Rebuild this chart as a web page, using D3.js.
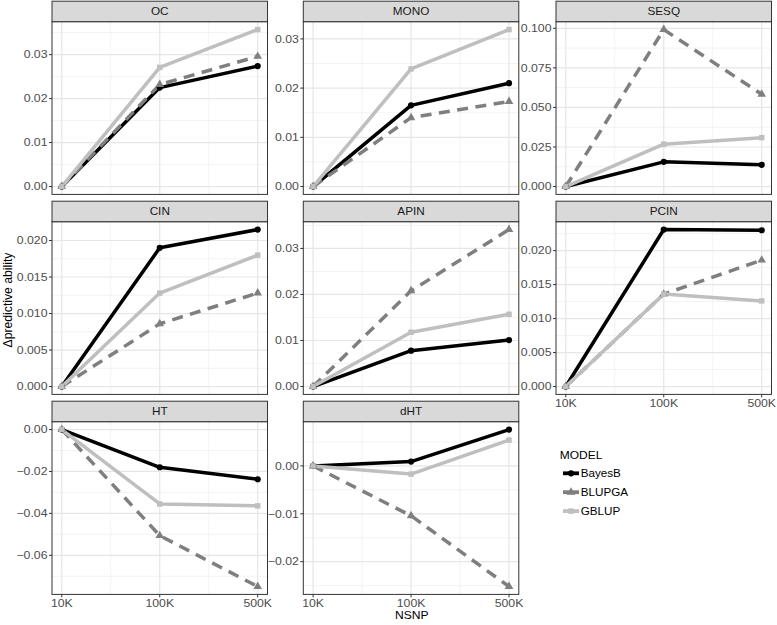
<!DOCTYPE html>
<html><head><meta charset="utf-8">
<script src="https://cdn.jsdelivr.net/npm/d3@7"></script>
<style>body{margin:0;background:#fff}svg{display:block}</style>
</head><body>
<script>
// ---- data ----
const panels = ["OC","MONO","SESQ","CIN","APIN","PCIN","HT","dHT"];
const nsnp = ["10K","100K","500K"];
const models = ["BayesB","BLUPGA","GBLUP"];
// one [10K,100K,500K] triple per panel, in panel order
const BayesB = [[0,0.0225,0.0274],[0,0.0165,0.0210],[0,0.0156,0.0137],[0,0.0190,0.0215],
                [0,0.0078,0.0101],[0,0.0231,0.0230],[0,-0.0180,-0.0237],[0,0.0009,0.0076]];
const BLUPGA = [[0,0.0232,0.0296],[0,0.0140,0.0173],[0,0.0992,0.0583],[0,0.0086,0.0128],
                [0,0.0208,0.0341],[0,0.0136,0.0186],[0,-0.0506,-0.0749],[0,-0.0104,-0.0252]];
const GBLUP  = [[0,0.0271,0.0357],[0,0.0239,0.0319],[0,0.0268,0.0309],[0,0.0128,0.0180],
                [0,0.0118,0.0157],[0,0.0136,0.0126],[0,-0.0355,-0.0364],[0,-0.0017,0.0054]];
const yTickLabels = [
  ["0.00","0.01","0.02","0.03"],
  ["0.00","0.01","0.02","0.03"],
  ["0.000","0.025","0.050","0.075","0.100"],
  ["0.000","0.005","0.010","0.015","0.020"],
  ["0.00","0.01","0.02","0.03"],
  ["0.000","0.005","0.010","0.015","0.020"],
  ["−0.06","−0.04","−0.02","0.00"],
  ["−0.02","−0.01","0.00"]
];
const seriesData = {BayesB, BLUPGA, GBLUP};

// ---- style ----
const W = 777, H = 625;
const colLeft = [52, 303.3, 556], pw = 215.5;
const rowTop = [21.7, 221.7, 421.7], ph = 172.7, stripH = 20.5;
const styles = {
  BayesB: {color:"#000000", dash:null, shape:"circle"},
  BLUPGA: {color:"#7f7f7f", dash:"11,7.5", shape:"triangle"},
  GBLUP:  {color:"#bfbfbf", dash:null, shape:"square"}
};
const bottomPanels = ["HT","dHT","PCIN"];
const font = "'Liberation Sans', Arial, Helvetica, sans-serif";

const svg = d3.select("body").append("svg").attr("width",W).attr("height",H);
svg.append("rect").attr("width",W).attr("height",H).attr("fill","#fff");

function txt(g, x, y, s, o){
  const t = g.append("text").attr("transform",`translate(${x},${y}) ${o.rot?`rotate(${o.rot})`:""} scale(${o.sx||1},1)`)
    .attr("font-family",font).attr("font-size",o.size).attr("fill",o.fill||"#000")
    .attr("text-anchor",o.anchor||"start").text(s);
  if(o.dy) t.attr("dy",o.dy);
  return t;
}
function symbol(shape){
  const map = {circle:[d3.symbolCircle,30], triangle:[d3.symbolTriangle,32], square:[d3.symbolSquare,30]};
  return d3.symbol().type(map[shape][0]).size(map[shape][1])();
}

const xIdx = nsnp.map((d,i)=>i+1);

panels.forEach((p,pi)=>{
  const col = pi%3, row = Math.floor(pi/3);
  const x0 = colLeft[col], y0 = rowTop[row];
  const g = svg.append("g");
  const all = models.flatMap(m=>seriesData[m][pi]);
  const mn = d3.min(all), mx = d3.max(all), r = mx-mn;
  const y = d3.scaleLinear().domain([mn-0.05*r, mx+0.05*r]).range([y0+ph, y0]);
  const x = d3.scaleLinear().domain([0.9,3.1]).range([x0, x0+pw]);
  const ticks = yTickLabels[pi].map(s=>+s.replace("−","-"));
  const step = Math.abs(ticks[1]-ticks[0]);
  const dom = y.domain();
  // minor grid
  const minors = [];
  for(let v = ticks[0]-step/2; v <= dom[1]; v += step) if(v>=dom[0]) minors.push(v);
  g.selectAll(".ymin").data(minors).enter().append("line")
    .attr("x1",x0).attr("x2",x0+pw).attr("y1",d=>y(d)).attr("y2",d=>y(d))
    .attr("stroke","#ebebeb").attr("stroke-width",0.6);
  g.selectAll(".xmin").data([1.5,2.5]).enter().append("line")
    .attr("x1",d=>x(d)).attr("x2",d=>x(d)).attr("y1",y0).attr("y2",y0+ph)
    .attr("stroke","#ebebeb").attr("stroke-width",0.6);
  // major grid
  g.selectAll(".ymaj").data(ticks).enter().append("line")
    .attr("x1",x0).attr("x2",x0+pw).attr("y1",d=>y(d)).attr("y2",d=>y(d))
    .attr("stroke","#e6e6e6").attr("stroke-width",1.2);
  g.selectAll(".xmaj").data(xIdx).enter().append("line")
    .attr("x1",d=>x(d)).attr("x2",d=>x(d)).attr("y1",y0).attr("y2",y0+ph)
    .attr("stroke","#e6e6e6").attr("stroke-width",1.2);
  // lines
  const line = d3.line().x((d,i)=>x(xIdx[i])).y(d=>y(d));
  models.forEach(m=>{
    const st = styles[m];
    g.append("path").attr("d",line(seriesData[m][pi])).attr("fill","none")
      .attr("stroke",st.color).attr("stroke-width",3.5)
      .attr("stroke-dasharray",st.dash).attr("stroke-linejoin","round");
  });
  models.forEach(m=>{
    const st = styles[m];
    seriesData[m][pi].forEach((v,i)=>{
      g.append("path").attr("d",symbol(st.shape))
        .attr("transform",`translate(${x(xIdx[i])},${y(v)})`).attr("fill",st.color);
    });
  });
  // border
  g.append("rect").attr("x",x0).attr("y",y0).attr("width",pw).attr("height",ph)
    .attr("fill","none").attr("stroke","#333").attr("stroke-width",1);
  // strip
  g.append("rect").attr("x",x0).attr("y",y0-stripH).attr("width",pw).attr("height",stripH)
    .attr("fill","#d9d9d9").attr("stroke","#333").attr("stroke-width",1);
  txt(g, x0+pw/2, y0-stripH/2, p, {size:11.2, sx:1.05, anchor:"middle", dy:"0.36em", fill:"#1a1a1a"});
  // y axis
  ticks.forEach((t,i)=>{
    g.append("line").attr("x1",x0-3).attr("x2",x0).attr("y1",y(t)).attr("y2",y(t))
      .attr("stroke","#333").attr("stroke-width",1);
    txt(g, x0-4.5, y(t), yTickLabels[pi][i], {size:10.5, sx:1.17, anchor:"end", dy:"0.36em", fill:"#4d4d4d"});
  });
  // x axis
  if(bottomPanels.includes(p)){
    xIdx.forEach((xi,i)=>{
      g.append("line").attr("x1",x(xi)).attr("x2",x(xi)).attr("y1",y0+ph).attr("y2",y0+ph+3)
        .attr("stroke","#333").attr("stroke-width",1);
      txt(g, x(xi), y0+ph+12.5, nsnp[i], {size:10.5, sx:1.17, anchor:"middle", fill:"#4d4d4d"});
    });
  }
});

// axis titles
txt(svg, (colLeft[0]+colLeft[2]+pw)/2, 619, "NSNP", {size:11, sx:1.1, anchor:"middle"});
txt(svg, 11.5, 300, "Δpredictive ability", {size:12.2, rot:-90, anchor:"middle"});

// legend
const lg = svg.append("g");
txt(lg, 559.7, 458.5, "MODEL", {size:11, sx:1.09});
models.forEach((m,i)=>{
  const cy = 473.3 + i*18.9, st = styles[m];
  lg.append("line").attr("x1",563).attr("x2",579).attr("y1",cy).attr("y2",cy)
    .attr("stroke",st.color).attr("stroke-width",3.8);
  lg.append("path").attr("d",symbol(st.shape)).attr("transform",`translate(571,${cy})`).attr("fill",st.color);
  txt(lg, 580.7, cy, m, {size:10.8, sx:1.08, dy:"0.36em"});
});
</script>
</body></html>
